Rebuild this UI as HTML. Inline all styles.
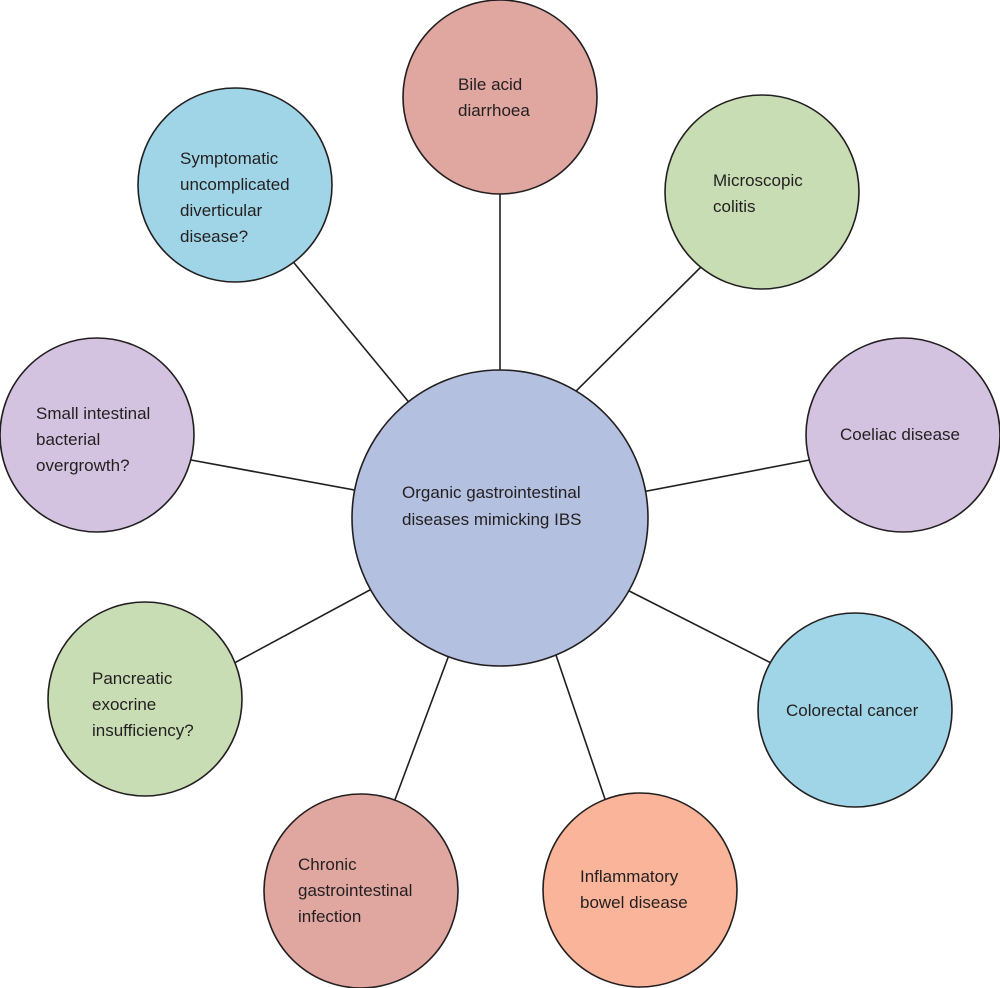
<!DOCTYPE html>
<html><head><style>
html,body{margin:0;padding:0;background:#fff;}
svg{display:block}
text{font-family:"Liberation Sans",sans-serif;font-size:17px;fill:#231f20;}
circle{stroke:#231f20;stroke-width:1.6}
line{stroke:#231f20;stroke-width:1.6}
</style></head><body>
<svg width="1000" height="988" viewBox="0 0 1000 988">
<g>
<line x1="500" y1="450" x2="500" y2="150"/>
<line x1="555" y1="412" x2="710" y2="258"/>
<line x1="600" y1="500" x2="820" y2="458"/>
<line x1="580" y1="566" x2="775" y2="665"/>
<line x1="540" y1="608" x2="607" y2="805"/>
<line x1="465" y1="612" x2="393" y2="805"/>
<line x1="420" y1="563" x2="225" y2="668"/>
<line x1="420" y1="502" x2="180" y2="458"/>
<line x1="440" y1="440" x2="290" y2="258"/>
</g>
<circle cx="500" cy="518" r="148" fill="#b4c0e0"/>
<circle cx="500" cy="97" r="97" fill="#e0a6a0"/>
<circle cx="762" cy="192" r="97" fill="#c8ddb4"/>
<circle cx="903" cy="435" r="97" fill="#d3c3e0"/>
<circle cx="855" cy="710" r="97" fill="#9fd5e6"/>
<circle cx="640" cy="890" r="97" fill="#f9b49a"/>
<circle cx="361" cy="891" r="97" fill="#e0a6a0"/>
<circle cx="145" cy="699" r="97" fill="#c8ddb4"/>
<circle cx="97" cy="435" r="97" fill="#d3c3e0"/>
<circle cx="235" cy="185" r="97" fill="#9fd5e6"/>

<text x="402" y="498">Organic gastrointestinal</text>
<text x="402" y="525">diseases mimicking IBS</text>
<text x="458" y="90">Bile acid</text>
<text x="458" y="116">diarrhoea</text>
<text x="713" y="186">Microscopic</text>
<text x="713" y="212">colitis</text>
<text x="840" y="440">Coeliac disease</text>
<text x="786" y="716">Colorectal cancer</text>
<text x="580" y="882">Inflammatory</text>
<text x="580" y="908">bowel disease</text>
<text x="298" y="870">Chronic</text>
<text x="298" y="896">gastrointestinal</text>
<text x="298" y="922">infection</text>
<text x="92" y="684">Pancreatic</text>
<text x="92" y="710">exocrine</text>
<text x="92" y="736">insufficiency?</text>
<text x="36" y="419">Small intestinal</text>
<text x="36" y="445">bacterial</text>
<text x="36" y="471">overgrowth?</text>
<text x="180" y="164">Symptomatic</text>
<text x="180" y="190">uncomplicated</text>
<text x="180" y="216">diverticular</text>
<text x="180" y="242">disease?</text>
</svg>
</body></html>
